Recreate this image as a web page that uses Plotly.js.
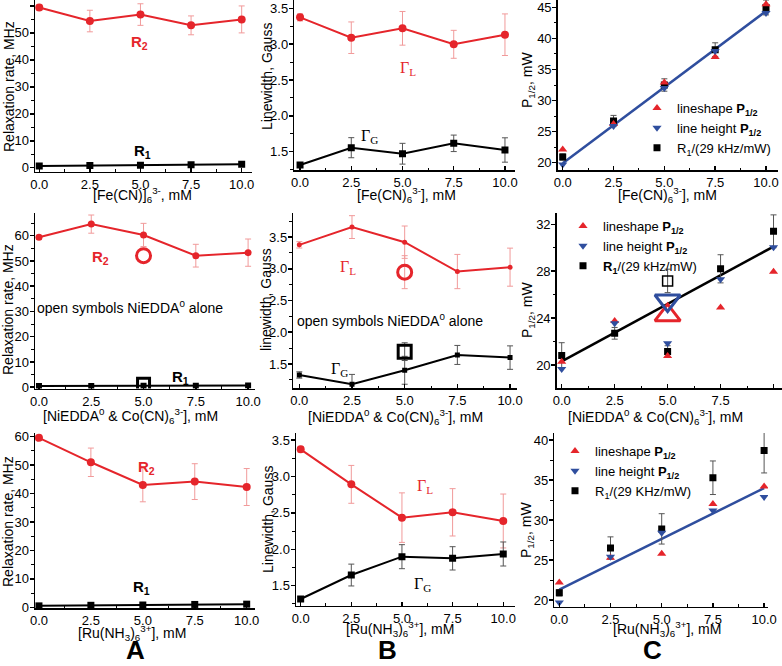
<!DOCTYPE html>
<html>
<head>
<meta charset="utf-8">
<script src="https://cdn.plot.ly/plotly-3.0.1.min.js"></script>
<style>html,body{margin:0;padding:0;background:#fff;}#chart{width:782px;height:666px;}</style>
</head>
<body>
<div id="chart"></div>
<script>
// ---------- data ----------
const conc = [0, 2.5, 5, 7.5, 10];
const fitX = [0, 10];
const openX = [5];

// Row A: Fe(CN)6 3-
const feR2 = [59.4, 54.4, 56.8, 52.8, 55.0];
const feR2Err = [1.0, 4.0, 4.0, 3.5, 5.0];
const feR1 = [0.6, 0.8, 0.9, 1.1, 1.3];
const feGL = [3.374, 3.09, 3.221, 2.998, 3.132];
const feGLErr = [0.05, 0.22, 0.235, 0.195, 0.29];
const feGG = [1.315, 1.556, 1.472, 1.617, 1.524];
const feGGErr = [0.03, 0.14, 0.145, 0.115, 0.17];
const feLS = [22.1, 26.2, 32.9, 37.0, 45.5];
const feLH = [19.7, 25.9, 32.0, 38.0, 44.1];
const feR1P = [20.9, 26.7, 32.5, 38.2, 45.0];
const feR1PErr = [0.5, 0.9, 1.0, 1.1, 1.2];
const feFit = [19.9, 44.4];

// Row B: NiEDDA0 & Co(CN)6 3-
const niR2 = [59.4, 64.6, 60.3, 52.1, 53.3];
const niR2Err = [0.8, 3.6, 4.6, 4.5, 5.4];
const niR1 = [0.5, 0.5, 0.6, 0.6, 0.7];
const niR2Open = [52.1];
const niR1Open = [1.2];
const niGL = [3.378, 3.658, 3.42, 2.957, 3.026];
const niGLErr = [0.05, 0.18, 0.255, 0.27, 0.3];
const niGLOpen = [2.947];
const niGLOpenErr = [0.26];
const niGG = [1.326, 1.18, 1.40, 1.642, 1.6];
const niGGErr = [0.05, 0.155, 0.22, 0.15, 0.185];
const niGGOpen = [1.694];
const niGGOpenErr = [0.14];
const niLS = [20.28, 23.75, 20.77, 24.9, 27.96];
const niLH = [19.66, 23.55, 21.85, 27.3, 30.04];
const niR1P = [20.8, 22.7, 21.14, 28.2, 31.4];
const niR1PErr = [1.1, 0.5, 0.5, 1.2, 1.4];
const niLSOpen = [24.25];
const niLHOpen = [25.5];
const niR1POpen = [27.17];
const niR1POpenErr = [1.0];
const niFit = [20.3, 30.1];

// Row C: Ru(NH3)6 3+
const ruR2 = [59.6, 51.0, 43.0, 44.2, 42.3];
const ruR2Err = [0.8, 5.0, 5.9, 6.3, 6.5];
const ruR1 = [0.5, 0.7, 0.8, 1.0, 1.1];
const ruGL = [3.372, 2.891, 2.434, 2.507, 2.388];
const ruGLErr = [0.04, 0.26, 0.34, 0.325, 0.37];
const ruGG = [1.317, 1.646, 1.898, 1.875, 1.935];
const ruGGErr = [0.03, 0.15, 0.165, 0.16, 0.165];
const ruLS = [22.2, 25.3, 25.8, 32.0, 34.2];
const ruLH = [19.7, 25.4, 28.4, 31.2, 32.9];
const ruR1P = [20.9, 26.5, 28.9, 35.3, 38.7];
const ruR1PErr = [0.4, 1.4, 1.9, 2.1, 2.8];
const ruFit = [21.3, 34.0];

// ---------- styles ----------
const W = 782, H = 666;
const RED = '#e5252b', RED_ERR = '#f19a9a', BLK = '#000000', BLK_ERR = '#555555', BLUE = '#2f4e9e';
const FONT = 'Liberation Sans, Arial, sans-serif';
const SERIF = 'Liberation Serif, Times New Roman, serif';
const px = x => x / W;
const py = y => 1 - y / H;

const traces = [];
function line(ax, x, y, color, symbol, err, errColor, size) {
  const t = {x, y, xaxis: 'x' + ax, yaxis: 'y' + ax, type: 'scatter', mode: 'lines+markers',
    line: {color, width: 2}, marker: {color, symbol, size: size || 8}, showlegend: false, hoverinfo: 'skip'};
  if (err) t.error_y = {type: 'data', array: err, color: errColor, thickness: 1, width: 3};
  traces.push(t);
}
function pts(ax, x, y, color, symbol, size, err, opts) {
  const t = Object.assign({x, y, xaxis: 'x' + ax, yaxis: 'y' + ax, type: 'scatter', mode: 'markers',
    marker: {color, symbol, size}, showlegend: false, hoverinfo: 'skip'}, opts || {});
  if (err) t.error_y = {type: 'data', array: err, color: BLK_ERR, thickness: 1, width: 3};
  traces.push(t);
}
function fit(ax, y, color) {
  traces.push({x: fitX, y, xaxis: 'x' + ax, yaxis: 'y' + ax, type: 'scatter', mode: 'lines',
    line: {color, width: 2.5}, showlegend: false, hoverinfo: 'skip'});
}

// Row A
line(1, conc, feR2, RED, 'circle', feR2Err, RED_ERR);
line(1, conc, feR1, BLK, 'square', null, null, 7);
line(2, conc, feGL, RED, 'circle', feGLErr, RED_ERR);
line(2, conc, feGG, BLK, 'square', feGGErr, BLK_ERR, 7);
fit(3, feFit, BLUE);
pts(3, conc, feR1P, BLK, 'square', 7, feR1PErr, {showlegend: true, legend: 'legend', name: 'R<sub>1</sub>/(29 kHz/mW)', legendrank: 3});
pts(3, conc, feLS, RED, 'triangle-up', 8, null, {showlegend: true, legend: 'legend', name: 'lineshape <b>P<sub>1/2</sub></b>', legendrank: 1});
pts(3, conc, feLH, BLUE, 'triangle-down', 8, null, {showlegend: true, legend: 'legend', name: 'line height <b>P<sub>1/2</sub></b>', legendrank: 2});

// Row B
line(4, conc, niR2, RED, 'circle', niR2Err, RED_ERR, 7);
line(4, conc, niR1, BLK, 'square', null, null, 6);
pts(4, openX, niR2Open, RED, 'circle-open', 14, null, {marker: {color: RED, symbol: 'circle-open', size: 14, line: {width: 3, color: RED}}});
pts(4, openX, niR1Open, BLK, 'square-open', 12, null, {marker: {color: BLK, symbol: 'square-open', size: 12, line: {width: 3, color: BLK}}});
line(5, conc, niGL, RED, 'circle', niGLErr, RED_ERR, 5);
line(5, conc, niGG, BLK, 'square', niGGErr, BLK_ERR, 5);
traces.push({x: openX, y: niGLOpen, xaxis: 'x5', yaxis: 'y5', type: 'scatter', mode: 'markers', showlegend: false, hoverinfo: 'skip',
  marker: {symbol: 'circle-open', size: 14, color: RED, line: {width: 3, color: RED}}, error_y: {type: 'data', array: niGLOpenErr, color: RED_ERR, thickness: 1, width: 3}});
traces.push({x: openX, y: niGGOpen, xaxis: 'x5', yaxis: 'y5', type: 'scatter', mode: 'markers', showlegend: false, hoverinfo: 'skip',
  marker: {symbol: 'square-open', size: 13, color: BLK, line: {width: 3, color: BLK}}, error_y: {type: 'data', array: niGGOpenErr, color: BLK_ERR, thickness: 1, width: 3}});
fit(6, niFit, BLK);
pts(6, conc, niR1P, BLK, 'square', 7, niR1PErr, {showlegend: true, legend: 'legend2', name: '<b>R<sub>1</sub></b>/(29 kHz/mW)', legendrank: 3});
pts(6, conc, niLS, RED, 'triangle-up', 8, null, {showlegend: true, legend: 'legend2', name: 'lineshape <b>P<sub>1/2</sub></b>', legendrank: 1});
pts(6, conc, niLH, BLUE, 'triangle-down', 8, null, {showlegend: true, legend: 'legend2', name: 'line height <b>P<sub>1/2</sub></b>', legendrank: 2});
traces.push({x: openX, y: niLSOpen, xaxis: 'x6', yaxis: 'y6', type: 'scatter', mode: 'markers', showlegend: false, hoverinfo: 'skip',
  marker: {symbol: 'triangle-up-open', size: 22, color: RED, line: {width: 3, color: RED}}});
traces.push({x: openX, y: niLHOpen, xaxis: 'x6', yaxis: 'y6', type: 'scatter', mode: 'markers', showlegend: false, hoverinfo: 'skip',
  marker: {symbol: 'triangle-down-open', size: 22, color: BLUE, line: {width: 3, color: BLUE}}});
traces.push({x: openX, y: niR1POpen, xaxis: 'x6', yaxis: 'y6', type: 'scatter', mode: 'markers', showlegend: false, hoverinfo: 'skip',
  marker: {symbol: 'square-open', size: 10, color: BLK, line: {width: 1.5, color: BLK}}, error_y: {type: 'data', array: niR1POpenErr, color: BLK_ERR, thickness: 1, width: 3}});

// Row C
line(7, conc, ruR2, RED, 'circle', ruR2Err, RED_ERR);
line(7, conc, ruR1, BLK, 'square', null, null, 7);
line(8, conc, ruGL, RED, 'circle', ruGLErr, RED_ERR);
line(8, conc, ruGG, BLK, 'square', ruGGErr, BLK_ERR, 7);
fit(9, ruFit, BLUE);
pts(9, conc, ruR1P, BLK, 'square', 7, ruR1PErr, {showlegend: true, legend: 'legend3', name: 'R<sub>1</sub>/(29 KHz/mW)', legendrank: 3});
pts(9, conc, ruLS, RED, 'triangle-up', 8, null, {showlegend: true, legend: 'legend3', name: 'lineshape <b>P<sub>1/2</sub></b>', legendrank: 1});
pts(9, conc, ruLH, BLUE, 'triangle-down', 8, null, {showlegend: true, legend: 'legend3', name: 'line height <b>P<sub>1/2</sub></b>', legendrank: 2});

// ---------- axes ----------
const layout = {
  width: W, height: H, margin: {l: 0, r: 0, t: 0, b: 0}, paper_bgcolor: '#fff', plot_bgcolor: 'rgba(0,0,0,0)',
  font: {family: FONT, size: 13, color: '#000'}, showlegend: true, annotations: []
};
function axes(i, xpx, ypx, xr, yr, ydt, yfmt) {
  const common = {showline: true, linecolor: '#000', linewidth: 1.5, tickwidth: 1.5, tickcolor: '#000',
    showgrid: false, zeroline: false, tickfont: {family: FONT, size: 13, color: '#000'}, fixedrange: true};
  layout['xaxis' + (i === 1 ? '' : i)] = Object.assign({}, common, {domain: [px(xpx[0]), px(xpx[1])], range: xr,
    anchor: 'y' + i, tick0: 0, dtick: 2.5, tickformat: '.1f', ticks: 'inside', ticklen: 4,
    minor: {ticks: 'inside', ticklen: 2.5, tickwidth: 1, tickcolor: '#000', dtick: 1.25}});
  layout['yaxis' + (i === 1 ? '' : i)] = Object.assign({}, common, {domain: [py(ypx[1]), py(ypx[0])], range: yr,
    anchor: 'x' + i, tick0: 0, dtick: ydt, tickformat: yfmt, ticks: 'outside', ticklen: 4, ticklabelstandoff: -2,
    minor: {ticks: 'outside', ticklen: 2.5, tickwidth: 1, tickcolor: '#000', dtick: ydt / 2}});
}
axes(1, [35, 252], [0, 171.5], [-0.21, 10.51], [-1.4, 62.2], 10, 'd');
axes(2, [294.3, 515], [0, 170], [-0.28, 10.49], [1.245, 3.616], 0.5, '.1f');
axes(3, [557.7, 778], [0, 170], [-0.246, 10.59], [18.8, 46.2], 5, 'd');
axes(4, [35, 255], [213, 388.5], [-0.19, 10.33], [-0.5, 69], 10, 'd');
axes(5, [293.3, 517], [213, 388.3], [-0.285, 10.33], [1.116, 3.88], 0.5, '.1f');
axes(6, [556.7, 782], [213, 388.3], [-0.236, 10.4], [18.01, 32.96], 4, 'd');
axes(7, [35, 255], [433, 608], [-0.19, 10.4], [-0.25, 61.3], 10, 'd');
axes(8, [296, 515], [433, 605.7], [-0.23, 10.58], [1.225, 3.596], 0.5, '.1f');
axes(9, [554.3, 768], [433, 606.7], [-0.244, 10.19], [19.16, 40.9], 5, 'd');

// legends
const legBase = {bgcolor: 'rgba(0,0,0,0)', borderwidth: 0, font: {family: FONT, size: 13, color: '#000'},
  xanchor: 'left', yanchor: 'top', traceorder: 'normal', tracegroupgap: 0};
layout.legend = Object.assign({}, legBase, {x: px(637), y: py(93)});
layout.legend2 = Object.assign({}, legBase, {x: px(563), y: py(211)});
layout.legend3 = Object.assign({}, legBase, {x: px(555), y: py(436)});

// ---------- annotations ----------
function annD(i, x, y, text, size, color, family) {
  layout.annotations.push({xref: 'x' + i, yref: 'y' + i, x, y, text, showarrow: false,
    font: {size, color, family: family || FONT}, xanchor: 'center', yanchor: 'middle'});
}
function annP(xp, yp, text, size, angle, opts) {
  layout.annotations.push(Object.assign({xref: 'paper', yref: 'paper', x: px(xp), y: py(yp), text, showarrow: false,
    textangle: angle || 0, font: {size, color: '#000', family: FONT}, xanchor: 'center', yanchor: 'middle'}, opts || {}));
}
// in-plot labels
annD(1, 4.97, 46.5, '<b>R<sub>2</sub></b>', 15, RED);
annD(1, 5.1, 5.9, '<b>R<sub>1</sub></b>', 15, BLK);
annD(2, 5.27, 2.667, 'Γ<sub>L</sub>', 16, RED, SERIF);
annD(2, 3.41, 1.706, 'Γ<sub>G</sub>', 16, BLK, SERIF);
annD(4, 2.92, 51.2, '<b>R<sub>2</sub></b>', 15, RED);
annD(4, 6.75, 3.7, '<b>R<sub>1</sub></b>', 15, BLK);
annD(4, 4.35, 31.8, 'open symbols NiEDDA<sup>0</sup> alone', 14, BLK);
annD(5, 2.31, 3.015, 'Γ<sub>L</sub>', 16, RED, SERIF);
annD(5, 1.93, 1.42, 'Γ<sub>G</sub>', 16, BLK, SERIF);
annD(5, 4.3, 2.195, 'open symbols NiEDDA<sup>0</sup> alone', 14, BLK);
annD(7, 5.2, 49.3, '<b>R<sub>2</sub></b>', 15, RED);
annD(7, 4.96, 6.9, '<b>R<sub>1</sub></b>', 15, BLK);
annD(8, 6.13, 2.855, 'Γ<sub>L</sub>', 16, RED, SERIF);
annD(8, 6.03, 1.51, 'Γ<sub>G</sub>', 16, BLK, SERIF);

// axis titles
const xtFe1 = '[Fe(CN)]<sub>6</sub><sup>3-</sup>, mM';
const xtFe = '[Fe(CN)<sub>6</sub><sup>3-</sup>], mM';
const xtNi = '[NiEDDA<sup>0</sup> & Co(CN)<sub>6</sub><sup>3-</sup>], mM';
const xtRu = '[Ru(NH<sub>3</sub>)<sub>6</sub><sup>3+</sup>], mM';
annP(9, 87, 'Relaxation rate, MHz', 14, -90);
annP(267, 77, 'Linewidth, Gauss', 14, -90);
annP(528, 80, 'P<sub>1/2</sub>, mW', 14, -90);
annP(8, 310, 'Relaxation rate, MHz', 14, -90);
annP(266, 300, 'linewidth, Gauss', 14, -90);
annP(528, 310, 'P<sub>1/2</sub>, mW', 14, -90);
annP(8, 522, 'Relaxation rate, MHz', 14, -90);
annP(268, 520, 'Linewidth, Gauss', 14, -90);
annP(527, 530, 'P<sub>1/2</sub>, mW', 14, -90);
annP(142, 195, xtFe1, 14);
annP(406, 195, xtFe, 14);
annP(667, 195, xtFe, 14);
annP(130, 416, xtNi, 14);
annP(395, 417, xtNi, 14);
annP(655, 417, xtNi, 14);
annP(132, 633, xtRu, 14);
annP(400, 629, xtRu, 14);
annP(667, 629, xtRu, 14);
// panel letters
annP(135, 666, '<b>A</b>', 26, 0, {yanchor: 'bottom', borderpad: 0});
annP(387, 666, '<b>B</b>', 26, 0, {yanchor: 'bottom', borderpad: 0});
annP(652, 666, '<b>C</b>', 26, 0, {yanchor: 'bottom', borderpad: 0});

Plotly.newPlot('chart', traces, layout, {displayModeBar: false, staticPlot: true});
</script>
</body>
</html>
